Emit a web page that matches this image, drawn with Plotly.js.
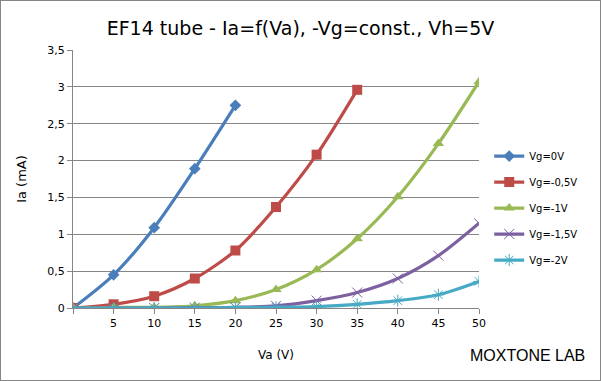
<!DOCTYPE html>
<html><head><meta charset="utf-8">
<script src="https://cdn.plot.ly/plotly-3.0.1.min.js"></script>
<style>
html,body{margin:0;padding:0;background:#fff;}
#wrap{position:relative;width:601px;height:381px;}
#chart{width:601px;height:381px;}
#frame{position:absolute;left:0;top:0;width:599px;height:379px;border:1px solid #868686;pointer-events:none;}
</style></head>
<body>
<div id="wrap"><div id="chart"></div><div id="frame"></div></div>
<script>
const va = [0, 5, 10, 15, 20, 25, 30, 35, 40, 45, 50];
const xTickLabels = ['', '5', '10', '15', '20', '25', '30', '35', '40', '45', '50'];
const yTickVals = [0, 0.5, 1, 1.5, 2, 2.5, 3, 3.5];
const vg0   = [0, 0.45, 1.09, 1.89, 2.75];
const vg05  = [0, 0.05, 0.16, 0.40, 0.78, 1.37, 2.08, 2.96];
const vg1   = [0, 0.01, 0.01, 0.03, 0.10, 0.25, 0.52, 0.94, 1.51, 2.23, 3.07];
const vg15  = [0, 0, 0, 0.005, 0.01, 0.03, 0.10, 0.21, 0.40, 0.71, 1.15];
const vg2   = [0, 0, 0, 0, 0.005, 0.01, 0.02, 0.05, 0.10, 0.18, 0.36];
const names = ['Vg=0V', 'Vg=-0,5V', 'Vg=-1V', 'Vg=-1,5V', 'Vg=-2V'];
const series = [vg0, vg05, vg1, vg15, vg2];
const colors = ['#4A7EBB', '#BE4B48', '#98B954', '#7D60A0', '#46AAC5'];
const symbols = ['diamond', 'square', 'triangle-up', 'x-thin-open', 'asterisk-open'];
const msizes = [9, 10, 10, 10, 10];

const traces = series.map((ys, i) => ({
  x: va.slice(0, ys.length),
  y: ys,
  name: names[i],
  legendgroup: 'g' + i,
  type: 'scatter',
  mode: 'lines+markers',
  line: {color: colors[i], width: 3.2, shape: 'spline', smoothing: 0.8},
  marker: {symbol: symbols[i], size: msizes[i], color: colors[i],
           line: {color: colors[i], width: (i >= 3 ? 1 : 0)}}
}));

const W = 601, H = 381, M = {l: 73, r: 122, t: 50, b: 73};
const pw = W - M.l - M.r, ph = H - M.t - M.b;

const layout = {
  width: W, height: H,
  paper_bgcolor: '#fff', plot_bgcolor: '#fff',
  separators: ', ',
  font: {family: 'DejaVu Sans, Verdana, sans-serif', color: '#000', size: 11},
  margin: {l: M.l, r: M.r, t: M.t, b: M.b, pad: 0},
  title: {text: 'EF14 tube - Ia=f(Va), -Vg=const., Vh=5V',
          font: {size: 19, color: '#000', family: 'DejaVu Sans, Verdana, sans-serif'},
          x: 0.5, xanchor: 'center', xref: 'container', y: 0.925, yref: 'container', yanchor: 'middle'},
  xaxis: {
    range: [0, 50], tickvals: va, ticktext: xTickLabels,
    showgrid: false, zeroline: false, showline: true, linecolor: '#868686', linewidth: 1,
    ticks: 'outside', ticklen: 5, tickcolor: '#868686',
    tickfont: {size: 11, color: '#000'},
    title: {text: 'Va (V)', font: {size: 12, color: '#000'}, standoff: 21}
  },
  yaxis: {
    range: [0, 3.5], tickvals: yTickVals,
    showgrid: true, gridcolor: '#868686', gridwidth: 1, zeroline: false,
    showline: true, linecolor: '#868686', linewidth: 1,
    ticks: 'outside', ticklen: 5, tickcolor: '#868686',
    tickfont: {size: 11, color: '#000'},
    title: {text: 'Ia (mA)', font: {size: 13, color: '#000'}, standoff: 17}
  },
  legend: {x: 0.814, xref: 'container', xanchor: 'left', y: 0.454, yref: 'container', yanchor: 'middle',
           font: {size: 10, color: '#000'}, tracegroupgap: 7, itemwidth: 30,
           bgcolor: 'rgba(0,0,0,0)'},
  annotations: [{text: 'MOXTONE LAB', xref: 'paper', yref: 'paper',
                 x: (587 - M.l) / pw, y: (H - M.b - 355.5) / ph,
                 xanchor: 'right', yanchor: 'middle',
                 showarrow: false, font: {size: 16, color: '#000', family: 'Liberation Sans, Arial, sans-serif'}}]
};
Plotly.newPlot('chart', traces, layout, {displayModeBar: false, staticPlot: true});
</script>
</body></html>
